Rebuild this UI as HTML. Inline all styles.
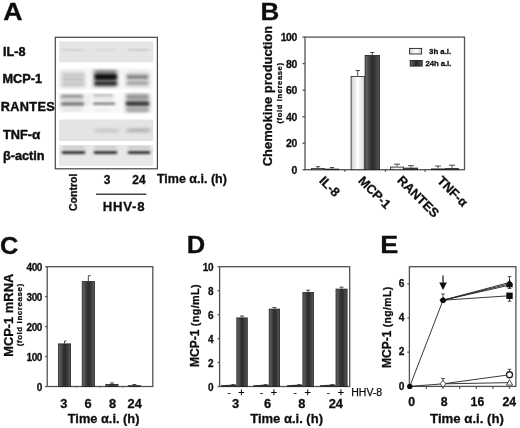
<!DOCTYPE html>
<html><head><meta charset="utf-8"><title>Figure</title>
<style>
html,body{margin:0;padding:0;background:#fff;}
svg{display:block;font-family:"Liberation Sans",Arial,sans-serif;fill:#111;}
text{stroke:#111;stroke-width:0.3px;stroke-linejoin:round;}
.b{font-weight:bold;}
.pl{font-size:24.5px;font-weight:bold;}
.ta{font-size:12.7px;font-weight:bold;stroke-width:0.45px;}
.t12{font-size:12px;font-weight:bold;}
.t11{font-size:11px;font-weight:bold;}
.tk{font-size:10.2px;font-weight:bold;letter-spacing:-0.4px;}
.t10{font-size:10px;font-weight:bold;}
.t9{font-size:9px;font-weight:bold;}
.t8{font-size:8px;font-weight:bold;}
.ax{stroke:#525252;stroke-width:1.3;fill:none;}
</style></head><body>
<svg width="520" height="428" viewBox="0 0 520 428">
<defs>
<linearGradient id="gd" x1="0" x2="1" y1="0" y2="0"><stop offset="0" stop-color="#6a6a6a"/><stop offset="0.45" stop-color="#2e2e2e"/><stop offset="0.6" stop-color="#2e2e2e"/><stop offset="1" stop-color="#5a5a5a"/></linearGradient>
<linearGradient id="gw" x1="0" x2="1" y1="0" y2="0"><stop offset="0" stop-color="#cfcfcf"/><stop offset="0.5" stop-color="#ffffff"/><stop offset="1" stop-color="#d8d8d8"/></linearGradient>
<filter id="bl1" x="-20%" y="-60%" width="140%" height="220%"><feGaussianBlur stdDeviation="1.6 0.95"/></filter>
<filter id="bl2" x="-20%" y="-60%" width="140%" height="220%"><feGaussianBlur stdDeviation="2.2 1.7"/></filter>
<filter id="bl0" x="-5%" y="-20%" width="110%" height="140%"><feGaussianBlur stdDeviation="0.55"/></filter>
<filter id="soft"><feGaussianBlur stdDeviation="0.35"/></filter>
</defs>
<rect width="520" height="428" fill="#fff"/>
<g filter="url(#soft)">

<text class="pl" transform="translate(3.2 19.6) scale(1.09 1)">A</text>
<rect x="55.3" y="37.3" width="102.1" height="131.5" fill="#fff" stroke="#444" stroke-width="1.2"/>
<rect x="59.2" y="41.3" width="94" height="21" fill="#e5e5e5" filter="url(#bl0)"/>
<rect x="59.2" y="68" width="94" height="21.5" fill="#f7f7f7" filter="url(#bl0)"/>
<rect x="59.2" y="93" width="94" height="20.5" fill="#f9f9f9" filter="url(#bl0)"/>
<rect x="59.2" y="119.5" width="94" height="21.5" fill="#e4e4e4" filter="url(#bl0)"/>
<rect x="59.2" y="145" width="94" height="20.8" fill="#e8e8e8" filter="url(#bl0)"/>
<rect x="62" y="49.4" width="21" height="1.3" fill="#c0c0c0" opacity="1" filter="url(#bl1)"/>
<rect x="96" y="49.4" width="21" height="1.2" fill="#d2d2d2" opacity="1" filter="url(#bl1)"/>
<rect x="128" y="49.2" width="21" height="1.4" fill="#bebebe" opacity="1" filter="url(#bl1)"/>
<rect x="61" y="71.5" width="24" height="16" fill="#d4d4d4" opacity="1" filter="url(#bl2)"/>
<rect x="63" y="74.5" width="21" height="2" fill="#c4c4c4" opacity="1" filter="url(#bl1)"/>
<rect x="63" y="78.5" width="21" height="2" fill="#bcbcbc" opacity="1" filter="url(#bl1)"/>
<rect x="63" y="83" width="21" height="2.2" fill="#c4c4c4" opacity="1" filter="url(#bl1)"/>
<rect x="94" y="70" width="23" height="17" fill="#7c7c7c" opacity="1" filter="url(#bl2)"/>
<rect x="95" y="74.3" width="21.5" height="5.2" fill="#0c0c0c" opacity="1" filter="url(#bl1)"/>
<rect x="95" y="81.5" width="21.5" height="3.5" fill="#303030" opacity="1" filter="url(#bl1)"/>
<rect x="126" y="72" width="23" height="15" fill="#d0d0d0" opacity="1" filter="url(#bl2)"/>
<rect x="127" y="75" width="21" height="4" fill="#8c8c8c" opacity="1" filter="url(#bl1)"/>
<rect x="127" y="81.5" width="21" height="3" fill="#a4a4a4" opacity="1" filter="url(#bl1)"/>
<rect x="61" y="94" width="23" height="14" fill="#dedede" opacity="1" filter="url(#bl2)"/>
<rect x="61" y="94.8" width="22" height="3.2" fill="#9a9a9a" opacity="1" filter="url(#bl1)"/>
<rect x="61" y="98.5" width="22" height="1.5" fill="#c8c8c8" opacity="1" filter="url(#bl1)"/>
<rect x="61" y="102.3" width="23" height="3.2" fill="#787878" opacity="1" filter="url(#bl1)"/>
<rect x="62" y="109.5" width="20" height="1.5" fill="#d6d6d6" opacity="1" filter="url(#bl1)"/>
<rect x="93" y="94.5" width="20" height="2" fill="#acacac" opacity="1" filter="url(#bl1)"/>
<rect x="93" y="98.5" width="20" height="1.2" fill="#d4d4d4" opacity="1" filter="url(#bl1)"/>
<rect x="93" y="102.3" width="22" height="2.8" fill="#888888" opacity="1" filter="url(#bl1)"/>
<rect x="95" y="109.5" width="16" height="1.2" fill="#dedede" opacity="1" filter="url(#bl1)"/>
<rect x="87" y="94" width="3" height="12" fill="#e0e0e0" opacity="1" filter="url(#bl2)"/>
<rect x="126" y="93.5" width="23" height="19" fill="#b6b6b6" opacity="1" filter="url(#bl2)"/>
<rect x="127" y="95" width="21" height="4" fill="#9a9a9a" opacity="1" filter="url(#bl1)"/>
<rect x="126" y="101.5" width="23" height="4.2" fill="#3c3c3c" opacity="1" filter="url(#bl1)"/>
<rect x="127" y="108" width="21" height="3" fill="#a8a8a8" opacity="1" filter="url(#bl1)"/>
<rect x="95" y="128.8" width="23" height="3.5" fill="#c4c4c4" opacity="1" filter="url(#bl2)"/>
<rect x="127" y="128.3" width="23" height="4" fill="#b4b4b4" opacity="1" filter="url(#bl2)"/>
<rect x="62" y="146.8" width="23" height="1.4" fill="#b0b0b0" opacity="1" filter="url(#bl1)"/>
<rect x="62" y="150.9" width="23" height="3.2" fill="#383838" opacity="1" filter="url(#bl1)"/>
<rect x="94" y="146.8" width="23" height="1.4" fill="#b0b0b0" opacity="1" filter="url(#bl1)"/>
<rect x="94" y="150.9" width="23" height="3.2" fill="#383838" opacity="1" filter="url(#bl1)"/>
<rect x="128" y="146.8" width="22" height="1.4" fill="#b0b0b0" opacity="1" filter="url(#bl1)"/>
<rect x="128" y="150.9" width="22" height="3.2" fill="#383838" opacity="1" filter="url(#bl1)"/>
<text class="ta" x="3" y="56">IL-8</text>
<text class="ta" x="2.5" y="82.8">MCP-1</text>
<text class="ta" x="0.8" y="110.5" style="letter-spacing:0.35px">RANTES</text>
<text class="ta" x="3" y="139">TNF-<tspan style="font-size:13.5px">α</tspan></text>
<text class="ta" x="3" y="160">β-actin</text>
<text class="t9" style="font-size:10.5px" transform="translate(77 211) rotate(-90)">Control</text>
<text class="t12" x="107" y="184" text-anchor="middle">3</text>
<text class="t12" x="139" y="184" text-anchor="middle">24</text>
<text class="t12" style="font-size:12.5px" x="156.9" y="183.2">Time α.i. (h)</text>
<path d="M96 194.3H146.3" stroke="#444" stroke-width="1.4"/>
<text class="t12" style="font-size:13.2px;letter-spacing:0.7px" x="124" y="211.4" text-anchor="middle">HHV-8</text>
<text class="pl" transform="translate(260.5 20) scale(1.06 1)">B</text>
<rect class="ax" x="305" y="37.1" width="159.5" height="132.6"/>
<path class="ax" d="M302.5 37.1H305"/>
<text class="tk" style="font-size:10.4px" x="296.8" y="41.0" text-anchor="end">100</text>
<path class="ax" d="M302.5 63.620000000000005H305"/>
<text class="tk" style="font-size:10.4px" x="296.8" y="67.52000000000001" text-anchor="end">80</text>
<path class="ax" d="M302.5 90.14H305"/>
<text class="tk" style="font-size:10.4px" x="296.8" y="94.04" text-anchor="end">60</text>
<path class="ax" d="M302.5 116.66H305"/>
<text class="tk" style="font-size:10.4px" x="296.8" y="120.56" text-anchor="end">40</text>
<path class="ax" d="M302.5 143.18H305"/>
<text class="tk" style="font-size:10.4px" x="296.8" y="147.08" text-anchor="end">20</text>
<path class="ax" d="M302.5 169.7H305"/>
<text class="tk" style="font-size:10.4px" x="296.8" y="173.6" text-anchor="end">0</text>
<path class="ax" d="M345 169.7v2M385.5 169.7v2M425 169.7v2"/>
<rect x="311.40" y="168.60" width="13.20" height="1.10" fill="url(#gw)" stroke="#222" stroke-width="0.8"/>
<path d="M318 168.2V166.7M315.8 166.7H320.2" stroke="#222" stroke-width="0.8" fill="none"/>
<rect x="325.40" y="169.10" width="13.20" height="0.60" fill="url(#gd)" stroke="#222" stroke-width="0.8"/>
<path d="M332 168.7V167.5M329.8 167.5H334.2" stroke="#222" stroke-width="0.8" fill="none"/>
<rect x="351.10" y="76.40" width="13.20" height="93.30" fill="url(#gw)" stroke="#222" stroke-width="0.8"/>
<path d="M357.7 76V70.5M355.5 70.5H359.9" stroke="#222" stroke-width="0.8" fill="none"/>
<rect x="365.10" y="55.40" width="14.50" height="114.30" fill="url(#gd)" stroke="#222" stroke-width="0.8"/>
<path d="M372.3 55V52.5M370.1 52.5H374.5" stroke="#222" stroke-width="0.8" fill="none"/>
<rect x="390.40" y="167.10" width="13.20" height="2.60" fill="url(#gw)" stroke="#222" stroke-width="0.8"/>
<path d="M397 166.7V164.2M394 164.2H400" stroke="#222" stroke-width="0.8" fill="none"/>
<rect x="404.40" y="168.10" width="13.20" height="1.60" fill="url(#gd)" stroke="#222" stroke-width="0.8"/>
<path d="M411 167.7V165.7M408 165.7H414" stroke="#222" stroke-width="0.8" fill="none"/>
<rect x="431.40" y="168.90" width="13.20" height="0.80" fill="url(#gw)" stroke="#222" stroke-width="0.8"/>
<path d="M438 168.5V166.0M435 166.0H441" stroke="#222" stroke-width="0.8" fill="none"/>
<rect x="445.40" y="168.60" width="13.20" height="1.10" fill="url(#gd)" stroke="#222" stroke-width="0.8"/>
<path d="M452 168.2V165.2M449 165.2H455" stroke="#222" stroke-width="0.8" fill="none"/>
<rect x="409.6" y="48.4" width="12" height="5.6" fill="url(#gw)" stroke="#222" stroke-width="0.9"/>
<rect x="410.2" y="60.5" width="12" height="5.6" fill="url(#gd)" stroke="#222" stroke-width="0.9"/>
<text class="t8" x="451.2" y="53.5" text-anchor="end" style="font-size:7.8px">3h a.i.</text>
<text class="t8" x="451.2" y="65.5" text-anchor="end" style="font-size:7.8px;letter-spacing:-0.1px">24h a.i.</text>
<text class="t12" style="font-size:12.9px" transform="translate(271.6 166.2) rotate(-90)">Chemokine production</text>
<text class="t8" transform="translate(282 123.5) rotate(-90)" style="font-size:7.6px" textLength="60.5">(fold increase)</text>
<text class="t11" style="font-size:12.8px" transform="translate(318.5 181.5) rotate(45)">IL-8</text>
<text class="t11" style="font-size:12.8px" transform="translate(357.5 181.5) rotate(45)">MCP-1</text>
<text class="t11" style="font-size:12.8px" transform="translate(396.5 181) rotate(45)">RANTES</text>
<text class="t11" style="font-size:12.8px" transform="translate(436.5 181.5) rotate(45)">TNF-α</text>
<text class="pl" transform="translate(0 254) scale(1.04 1)">C</text>
<rect class="ax" x="47.2" y="266.7" width="105.60000000000001" height="119.80000000000001"/>
<path class="ax" d="M45.2 266.7H47.2"/>
<text class="tk" style="font-size:10px" x="42.0" y="271.2" text-anchor="end">400</text>
<path class="ax" d="M45.2 296.65H47.2"/>
<text class="tk" style="font-size:10px" x="42.0" y="301.15" text-anchor="end">300</text>
<path class="ax" d="M45.2 326.6H47.2"/>
<text class="tk" style="font-size:10px" x="42.0" y="331.1" text-anchor="end">200</text>
<path class="ax" d="M45.2 356.55H47.2"/>
<text class="tk" style="font-size:10px" x="42.0" y="361.05" text-anchor="end">100</text>
<path class="ax" d="M45.2 386.5H47.2"/>
<text class="tk" style="font-size:10px" x="42.0" y="391.0" text-anchor="end">0</text>
<rect x="58.40" y="343.90" width="12.20" height="42.60" fill="url(#gd)" stroke="#222" stroke-width="0.8"/>
<path d="M64.5 343.5V341.0M64.5 341.0H66.5" stroke="#222" stroke-width="0.8" fill="none"/>
<rect x="82.20" y="281.60" width="12.20" height="104.90" fill="url(#gd)" stroke="#222" stroke-width="0.8"/>
<path d="M88.3 281.2V275.7M88.3 275.7H90.8" stroke="#222" stroke-width="0.8" fill="none"/>
<rect x="105.80" y="384.40" width="12.20" height="2.10" fill="url(#gd)" stroke="#222" stroke-width="0.8"/>
<path d="M112 384V383M110 383H114" stroke="#222" stroke-width="0.8" fill="none"/>
<rect x="128.20" y="385.70" width="12.40" height="0.80" fill="url(#gd)" stroke="#222" stroke-width="0.8"/>
<path d="M134.4 385.3V384.5M132.4 384.5H136.4" stroke="#222" stroke-width="0.8" fill="none"/>
<path class="ax" d="M76.5 386.5v1.2M100 386.5v1.2M123 386.5v1.2" opacity="0.7"/>
<text class="t12" style="font-size:12.8px" x="63.9" y="407.8" text-anchor="middle">3</text>
<text class="t12" style="font-size:12.8px" x="88" y="407.8" text-anchor="middle">6</text>
<text class="t12" style="font-size:12.8px" x="112.6" y="407.8" text-anchor="middle">8</text>
<text class="t12" style="font-size:12.8px" x="134.7" y="407.8" text-anchor="middle">24</text>
<text class="t12" style="font-size:12.8px" x="103.6" y="422.5" text-anchor="middle">Time α.i. (h)</text>
<text class="t12" style="font-size:12.9px" transform="translate(12.6 315.3) rotate(-90)" text-anchor="middle">MCP-1 mRNA</text>
<text class="t8" transform="translate(22.3 346.3) rotate(-90)" style="font-size:8px" textLength="62.5">(fold increase)</text>
<text class="pl" transform="translate(186.7 253) scale(1.04 1)">D</text>
<rect class="ax" x="219.6" y="266.7" width="130.1" height="119.80000000000001"/>
<path class="ax" d="M217.6 266.7H219.6"/>
<text class="tk" style="font-size:10px" x="213.1" y="271.09999999999997" text-anchor="end">10</text>
<path class="ax" d="M217.6 290.65999999999997H219.6"/>
<text class="tk" style="font-size:10px" x="213.1" y="295.05999999999995" text-anchor="end">8</text>
<path class="ax" d="M217.6 314.62H219.6"/>
<text class="tk" style="font-size:10px" x="213.1" y="319.02" text-anchor="end">6</text>
<path class="ax" d="M217.6 338.58H219.6"/>
<text class="tk" style="font-size:10px" x="213.1" y="342.97999999999996" text-anchor="end">4</text>
<path class="ax" d="M217.6 362.53999999999996H219.6"/>
<text class="tk" style="font-size:10px" x="213.1" y="366.93999999999994" text-anchor="end">2</text>
<path class="ax" d="M217.6 386.5H219.6"/>
<text class="tk" style="font-size:10px" x="213.1" y="390.9" text-anchor="end">0</text>
<rect x="236.80" y="317.90" width="10.50" height="68.60" fill="url(#gd)" stroke="#222" stroke-width="0.8"/>
<path d="M242.05 317.5V316.0M240.05 316.0H244.05" stroke="#222" stroke-width="0.8" fill="none"/>
<path d="M220.9 386.8V385.3L230.4 384.7L232.9 383.9L236.4 384.7V386.8Z" fill="#2a2a2a"/>
<text x="229.1" y="396" text-anchor="middle" style="font-size:9.5px">-</text>
<text x="241.45000000000002" y="395.6" text-anchor="middle" style="font-size:10.8px">+</text>
<rect x="269.20" y="309.10" width="10.40" height="77.40" fill="url(#gd)" stroke="#222" stroke-width="0.8"/>
<path d="M274.4 308.7V307.5M272.4 307.5H276.4" stroke="#222" stroke-width="0.8" fill="none"/>
<path d="M253.3 386.8V385.3L262.8 384.7L265.3 383.9L268.8 384.7V386.8Z" fill="#2a2a2a"/>
<text x="261.5" y="396" text-anchor="middle" style="font-size:9.5px">-</text>
<text x="273.79999999999995" y="395.6" text-anchor="middle" style="font-size:10.8px">+</text>
<rect x="302.90" y="292.40" width="10.50" height="94.10" fill="url(#gd)" stroke="#222" stroke-width="0.8"/>
<path d="M308.15 292V290.2M306.15 290.2H310.15" stroke="#222" stroke-width="0.8" fill="none"/>
<path d="M287.0 386.8V385.3L296.5 384.7L299.0 383.9L302.5 384.7V386.8Z" fill="#2a2a2a"/>
<text x="295.2" y="396" text-anchor="middle" style="font-size:9.5px">-</text>
<text x="307.54999999999995" y="395.6" text-anchor="middle" style="font-size:10.8px">+</text>
<rect x="336.00" y="289.10" width="11.10" height="97.40" fill="url(#gd)" stroke="#222" stroke-width="0.8"/>
<path d="M341.55 288.7V287.2M339.55 287.2H343.55" stroke="#222" stroke-width="0.8" fill="none"/>
<path d="M320.1 386.8V385.3L329.6 384.7L332.1 383.9L335.6 384.7V386.8Z" fill="#2a2a2a"/>
<text x="328.3" y="396" text-anchor="middle" style="font-size:9.5px">-</text>
<text x="340.95" y="395.6" text-anchor="middle" style="font-size:10.8px">+</text>
<text class="t12" style="font-size:12.9px" x="235.5" y="407.5" text-anchor="middle">3</text>
<text class="t12" style="font-size:12.9px" x="267.5" y="407.5" text-anchor="middle">6</text>
<text class="t12" style="font-size:12.9px" x="301.8" y="407.5" text-anchor="middle">8</text>
<text class="t12" style="font-size:12.9px" x="335.8" y="407.5" text-anchor="middle">24</text>
<text x="351.2" y="396" style="font-size:10px;stroke:#111;stroke-width:0.25px" textLength="31" lengthAdjust="spacingAndGlyphs">HHV-8</text>
<text class="t12" style="font-size:13px" x="286.6" y="422.5" text-anchor="middle">Time α.i. (h)</text>
<text class="t12" transform="translate(198.7 367) rotate(-90)">MCP-1 <tspan style="font-size:10.8px;letter-spacing:0.4px">(ng/mL)</tspan></text>
<text class="pl" transform="translate(380.3 253) scale(1.1 1)">E</text>
<rect class="ax" x="409.4" y="266.7" width="106.5" height="119.69999999999999"/>
<path class="ax" d="M407.4 283.79999999999995H409.4"/>
<text class="tk" style="font-size:10.2px" x="404.09999999999997" y="286.9" text-anchor="end">6</text>
<path class="ax" d="M407.4 318.0H409.4"/>
<text class="tk" style="font-size:10.2px" x="404.09999999999997" y="321.1" text-anchor="end">4</text>
<path class="ax" d="M407.4 352.2H409.4"/>
<text class="tk" style="font-size:10.2px" x="404.09999999999997" y="355.3" text-anchor="end">2</text>
<path class="ax" d="M407.4 386.4H409.4"/>
<text class="tk" style="font-size:10.2px" x="404.09999999999997" y="389.5" text-anchor="end">0</text>
<path class="ax" d="M426.4 386.4v2.3"/>
<path class="ax" d="M443.0 386.4v2.3"/>
<path class="ax" d="M459.7 386.4v2.3"/>
<path class="ax" d="M476.3 386.4v2.3"/>
<path class="ax" d="M492.9 386.4v2.3"/>
<path class="ax" d="M509.5 386.4v2.3"/>
<path d="M409.8 386.4L443.04 300.21599999999995L509.52 282.43199999999996M443.04 300.21599999999995L509.52 285.16799999999995M443.04 300.21599999999995L509.52 283.79999999999995M443.04 300.21599999999995L509.52 295.77" stroke="#222" stroke-width="0.9" fill="none"/>
<path d="M409.8 386.4L443.04 383.835L509.52 374.772M443.04 383.835L509.52 382.638" stroke="#222" stroke-width="0.9" fill="none"/>
<path d="M443.04 294.01599999999996V300.21599999999995M441.24 294.01599999999996h3.6M441.24 300.21599999999995h3.6" stroke="#222" stroke-width="0.8" fill="none"/>
<path d="M509.52 276.5999999999999V288.49999999999994M507.71999999999997 276.5999999999999h3.6M507.71999999999997 288.49999999999994h3.6" stroke="#222" stroke-width="0.8" fill="none"/>
<path d="M509.52 295.77V301.16999999999996M507.71999999999997 295.77h3.6M507.71999999999997 301.16999999999996h3.6" stroke="#222" stroke-width="0.8" fill="none"/>
<path d="M443.04 378.53499999999997V383.835M441.24 378.53499999999997h3.6M441.24 383.835h3.6" stroke="#222" stroke-width="0.8" fill="none"/>
<path d="M509.52 369.272V374.772M507.71999999999997 369.272h3.6M507.71999999999997 374.772h3.6" stroke="#222" stroke-width="0.8" fill="none"/>
<circle cx="409.8" cy="386.4" r="2.7" fill="#111"/>
<circle cx="443.04" cy="300.21599999999995" r="2.8" fill="#111"/>
<path d="M439.44 300.21599999999995L443.04 297.21599999999995L446.64000000000004 300.21599999999995L443.04 303.21599999999995Z" fill="#111"/>
<path d="M506.02 287.19999999999993L509.52 278.99999999999994L513.02 287.19999999999993Z" fill="#111"/>
<path d="M505.91999999999996 284.49999999999994L509.52 280.8999999999999L513.12 284.49999999999994L509.52 287.79999999999995Z" fill="#111"/>
<circle cx="509.52" cy="284.49999999999994" r="3" fill="#111"/>
<rect x="506.32" y="292.57" width="6.4" height="6.4" fill="#111"/>
<path d="M440.24 383.835L443.04 380.335L445.84000000000003 383.835L443.04 387.335Z" fill="#fff" stroke="#222" stroke-width="0.8"/>
<path d="M506.52 385.138L509.52 379.638L512.52 385.138Z" fill="#fff" stroke="#222" stroke-width="0.8"/>
<circle cx="509.52" cy="374.772" r="3" fill="#fff" stroke="#222" stroke-width="1.3"/>
<path d="M443.04 275.5V284" stroke="#111" stroke-width="1.2"/><path d="M439.24 282.5L443.04 290L446.84000000000003 282.5Z" fill="#111"/>
<text class="t12" style="font-size:12.3px" x="411.6" y="405.9" text-anchor="middle">0</text>
<text class="t12" style="font-size:12.3px" x="444.1" y="405.9" text-anchor="middle">8</text>
<text class="t12" style="font-size:12.3px" x="477.4" y="405.9" text-anchor="middle">16</text>
<text class="t12" style="font-size:12.3px" x="509.3" y="405.9" text-anchor="middle">24</text>
<text class="t12" style="font-size:13.2px" x="467" y="422.5" text-anchor="middle">Time α.i. (h)</text>
<text class="t12" transform="translate(391.2 368) rotate(-90)">MCP-1 <tspan style="font-size:10.4px;letter-spacing:0.4px">(ng/mL)</tspan></text>
</g></svg></body></html>
